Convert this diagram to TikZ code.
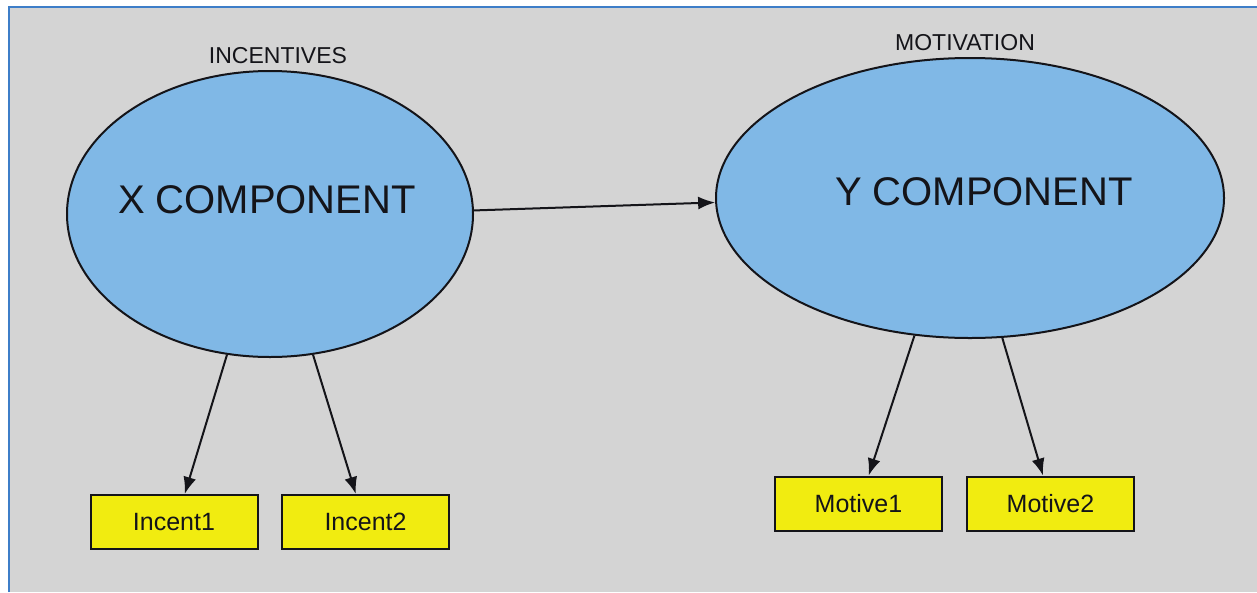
\documentclass[tikz,border=0pt]{standalone}
\usepackage{fontspec}
\setmainfont{Liberation Sans}
\usetikzlibrary{shapes.geometric,arrows.meta}

\definecolor{canvas}{RGB}{212,212,212}
\definecolor{frameblue}{RGB}{62,126,200}
\definecolor{latentfill}{RGB}{128,184,230}
\definecolor{boxyellow}{RGB}{241,236,16}
\definecolor{ink}{RGB}{20,20,25}

\tikzset{
  latent/.style={ellipse, draw=ink, line width=2pt, fill=latentfill, inner sep=0pt},
  indicator/.style={rectangle, draw=ink, line width=2pt, fill=boxyellow,
    minimum width=167pt, minimum height=54pt, inner sep=0pt, text=ink,
    font=\fontsize{25}{30}\selectfont},
  bigtext/.style={anchor=base, inner sep=0pt, text=ink, font=\fontsize{40}{48}\selectfont},
  captext/.style={anchor=base, inner sep=0pt, text=ink, font=\fontsize{23}{28}\selectfont},
  path/.style={draw=ink, line width=2pt, -{Latex[length=17pt,width=13pt]}},
}

\begin{document}
\begin{tikzpicture}[x=1pt, y=-1pt]
  % page and panel
  \fill[white] (0,0) rectangle (1257,592);
  \useasboundingbox (0,0) rectangle (1257,592);
  \fill[canvas] (9,7) rectangle (1257,592);
  \draw[frameblue, line width=2.4pt] (9,592) -- (9,7) -- (1257,7);

  % latent variables
  \node[latent, minimum width=406pt, minimum height=286pt] (X) at (270,214) {};
  \node[latent, minimum width=508pt, minimum height=280pt] (Y) at (970,198) {};

  \node[bigtext] (Xt) at (267,213) {X COMPONENT};
  \node[bigtext] (Yt) at (984,205) {Y COMPONENT};

  \node[captext] (Xc) at (278,63) {INCENTIVES};
  \node[captext] (Yc) at (965,50) {MOTIVATION};

  % indicators
  \node[indicator] (I1) at (174,522) {Incent1};
  \node[indicator] (I2) at (365.5,522) {Incent2};
  \node[indicator] (M1) at (858.5,503.5) {Motive1};
  \node[indicator] (M2) at (1050.5,503.5) {Motive2};

  % paths
  \draw[path] (X.1) -- (Y.181);
  \draw[path] (X.-107.5) -- (I1.69.7);
  \draw[path] (X.-73.3) -- (I2.109.4);
  \draw[path] (Y.-112.2) -- (M1.70.6);
  \draw[path] (Y.-77.9) -- (M2.105.3);
\end{tikzpicture}
\end{document}
